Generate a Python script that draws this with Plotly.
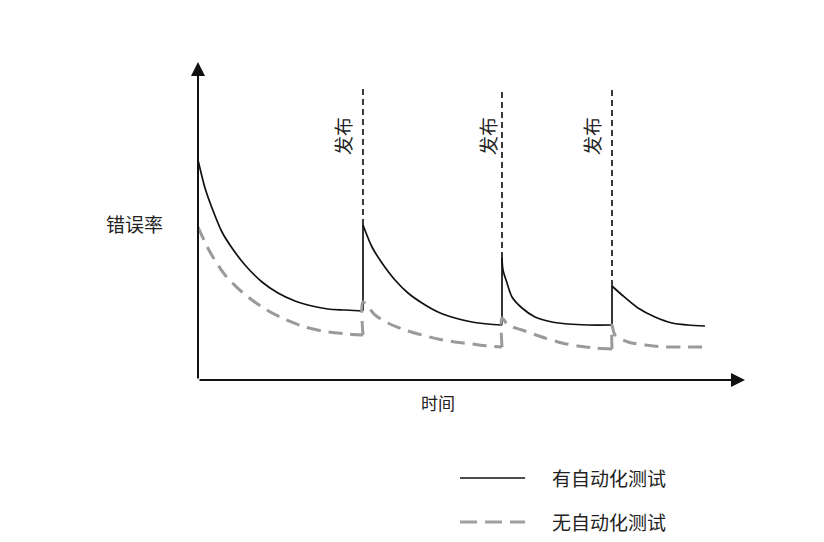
import plotly.graph_objects as go

FONT = "Noto Sans CJK SC"

# ---- data (time in arbitrary units, error rate in arbitrary units) ----
# curve segments between releases, separated by None
t_with = [0, 7, 14, 24, 34, 47, 64, 80, 97, 114, 130, 147, 165, None,
          165, 174, 184, 197, 210, 224, 240, 257, 274, 290, 304, None,
          304, 305, 309, 314, 324, 337, 354, 370, 390, 414, None,
          414, 424, 440, 457, 474, 490, 507]
e_with = [220, 192, 172, 148, 132, 115, 98, 87, 79, 74, 71, 70, 69, None,
          155, 133, 117, 100, 87, 77, 68, 62, 58, 56, 55, None,
          122, 110, 97, 83, 72, 63, 58, 56, 55, 55, None,
          94, 85, 72, 63, 57, 55, 54]

t_without = [0, 12, 27, 44, 64, 84, 107, 130, 150, 165, None,
             165, 165, 177, 190, 207, 224, 240, 257, 274, 290, 304, None,
             304, 304, 310, 324, 347, 364, 380, 397, 414, None,
             414, 414, 417, 430, 447, 467, 484, 507]
e_without = [153, 128, 105, 88, 73, 62, 53, 48, 46, 45, None,
             45, 78, 65, 57, 50, 45, 41, 38, 36, 34, 33, None,
             33, 62, 55, 50, 42, 37, 34, 32, 31, None,
             31, 55, 45, 38, 35, 33, 33, 33]

release_t = [165, 304, 414]
release_low = [69, 55, 55]      # error rate (with tests) just before a release
release_peak = [155, 122, 94]   # error rate (with tests) just after a release
release_label = "发布"

series_names = ["有自动化测试", "无自动化测试"]
x_label = "时间"
y_label = "错误率"

X_MAX = 547
Y_MAX = 318
RELEASE_TOP = 291

# vertical jumps of the solid series at each release
jump_x, jump_y = [], []
for t, lo, hi in zip(release_t, release_low, release_peak):
    jump_x += [t, t, None]
    jump_y += [lo, hi, None]

fig = go.Figure()
fig.add_trace(go.Scatter(x=t_with, y=e_with, mode="lines", name=series_names[0],
                         legendgroup="with", connectgaps=False,
                         line=dict(color="#111111", width=1.7, shape="spline", smoothing=0.8),
                         showlegend=False))
fig.add_trace(go.Scatter(x=jump_x, y=jump_y, mode="lines", name=series_names[0],
                         legendgroup="with", connectgaps=False,
                         line=dict(color="#111111", width=1.7), showlegend=False))
fig.add_trace(go.Scatter(x=t_without, y=e_without, mode="lines", name=series_names[1],
                         connectgaps=False,
                         line=dict(color="#9a9a9a", width=3, dash="14px,8px",
                                   shape="spline", smoothing=0.8),
                         showlegend=False))

shapes = []
annotations = []
label_offsets = [-21, -15, -21]
for t, p, off in zip(release_t, release_peak, label_offsets):
    shapes.append(dict(type="line", xref="x", yref="y", x0=t, x1=t, y0=p, y1=RELEASE_TOP,
                       line=dict(color="#3a3a3a", width=2, dash="6px,4px")))
    annotations.append(dict(x=t, y=244, xref="x", yref="y", text=release_label,
                            showarrow=False, textangle=-90, xshift=off,
                            font=dict(family=FONT, size=19, color="#222222")))

# axes with arrows
annotations.append(dict(x=0, y=Y_MAX, ax=0, ay=0, xref="x", yref="y", axref="x", ayref="y",
                        text="", showarrow=True, arrowhead=2, arrowsize=1.4, arrowwidth=2,
                        arrowcolor="#111111"))
annotations.append(dict(x=X_MAX, y=0, ax=0, ay=0, xref="x", yref="y", axref="x", ayref="y",
                        text="", showarrow=True, arrowhead=2, arrowsize=1.4, arrowwidth=2,
                        arrowcolor="#111111"))

# axis titles
annotations.append(dict(x=-0.1152, y=0.4906, xref="paper", yref="paper", text=y_label,
                        showarrow=False, xanchor="center", yanchor="middle",
                        font=dict(family=FONT, size=19, color="#222222")))
annotations.append(dict(x=0.4388, y=-0.0723, xref="paper", yref="paper", text=x_label,
                        showarrow=False, xanchor="center", yanchor="middle",
                        font=dict(family=FONT, size=17, color="#222222")))

# manual legend
leg_y = [-0.308, -0.4465]
leg_styles = [dict(color="#111111", width=1.6), dict(color="#a0a0a0", width=3, dash="17px,8px")]
for name, ly, st in zip(series_names, leg_y, leg_styles):
    shapes.append(dict(type="line", xref="paper", yref="paper", x0=0.479, x1=0.598,
                       y0=ly, y1=ly, line=st))
    annotations.append(dict(x=0.6435, y=ly, xref="paper", yref="paper", text=name,
                            showarrow=False, xanchor="left", yanchor="middle",
                            font=dict(family=FONT, size=19, color="#222222")))

fig.update_layout(
    width=808, height=526,
    margin=dict(l=190, r=71, t=54, b=154),
    paper_bgcolor="white", plot_bgcolor="white",
    shapes=shapes, annotations=annotations,
    showlegend=False,
    font=dict(family=FONT),
    xaxis=dict(range=[0, X_MAX], showgrid=False, zeroline=False, showline=False,
               showticklabels=False, ticks=""),
    yaxis=dict(range=[0, Y_MAX], showgrid=False, zeroline=False, showline=False,
               showticklabels=False, ticks=""),
)

fig.write_html("out.html")
